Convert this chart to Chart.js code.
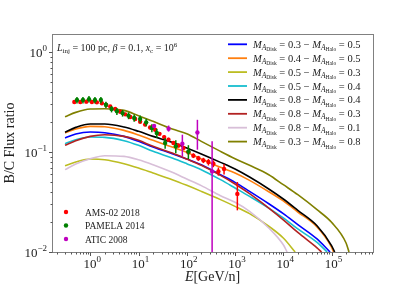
<!DOCTYPE html>
<html>
<head>
<meta charset="utf-8">
<script src="https://cdn.jsdelivr.net/npm/chart.js@4.4.0/dist/chart.umd.min.js"></script>
<style>
  html, body { margin: 0; padding: 0; background: #fff; }
  canvas { display: block; }
</style>
</head>
<body>
<canvas id="bcChart" width="415" height="288"></canvas>
<script>
// energy grid of the model curves [GeV/n]
const E_grid = [0.3, 0.5, 1, 2, 5, 10, 20, 50, 100, 200, 500, 1e3, 2e3, 5e3, 1e4, 2e4, 5e4, 1e5, 2e5];

// B/C ratio of each model on E_grid, then the energy where it drops to 0.01
const bcBlue   = [0.138, 0.1514, 0.1585, 0.1561, 0.1434, 0.1279, 0.1122, 0.0962, 0.0851, 0.0747, 0.0593, 0.0497, 0.0404, 0.0304, 0.0242, 0.0188, 0.0135];
const bcOrange = [0.1549, 0.1698, 0.1806, 0.1792, 0.1647, 0.1479, 0.1308, 0.1122, 0.0992, 0.0851, 0.0703, 0.0617, 0.0521, 0.0401, 0.0324, 0.0251, 0.0178, 0.0112];
const bcYellow = [0.073, 0.0794, 0.0851, 0.0838, 0.0764, 0.0692, 0.0617, 0.0529, 0.0464, 0.0404, 0.0334, 0.0286, 0.0242, 0.0181, 0.0138];
const bcCyan   = [0.1211, 0.1328, 0.1413, 0.1402, 0.1298, 0.1166, 0.1015, 0.0871, 0.0764, 0.0666, 0.0529, 0.0437, 0.036, 0.0275, 0.0219, 0.017, 0.0125];
const bcBlack  = [0.158, 0.1764, 0.1905, 0.1905, 0.1778, 0.161, 0.1434, 0.125, 0.1096, 0.0955, 0.0788, 0.0676, 0.0562, 0.0427, 0.0339, 0.0261, 0.0183, 0.0116];
const bcBrown  = [0.1166, 0.1298, 0.1434, 0.149, 0.1434, 0.1308, 0.1139, 0.0977, 0.0851, 0.0736, 0.0584, 0.0479, 0.0383, 0.0275, 0.021, 0.0157, 0.011];
const bcPink   = [0.0666, 0.0759, 0.0858, 0.0919, 0.0905, 0.0838, 0.0747, 0.0626, 0.0537, 0.0461, 0.0366, 0.0314, 0.0255, 0.0174, 0.0118];
const bcOlive  = [0.2255, 0.2492, 0.2692, 0.2713, 0.261, 0.2309, 0.2026, 0.1698, 0.1526, 0.1279, 0.1015, 0.0858, 0.0736, 0.0593, 0.0471, 0.0374, 0.0265, 0.0198, 0.0123];
const cutoffE  = [9.3e4, 1.1e5, 1.76e4, 8.1e4, 1.16e5, 6.2e4, 1.2e4, 2.3e5];

const maDisk = ['0.3', '0.4', '0.5', '0.5', '0.8', '0.8', '0.8', '0.3'];
const maHalo = ['0.5', '0.5', '0.3', '0.4', '0.4', '0.3', '0.1', '0.8'];

// AMS-02 2018
const amsE = [0.467, 0.621, 0.827, 1.08, 1.37, 1.74, 2.14, 2.59, 3.29, 4.18, 5.3, 6.73, 8.53, 10.8, 13.7, 17.4, 22.1, 27.2, 34, 41.8, 53, 67.3, 85.3, 108, 137, 174, 221, 281, 356, 452, 592, 1117];
const amsBC = [0.316, 0.316, 0.319, 0.316, 0.314, 0.307, 0.295, 0.286, 0.269, 0.253, 0.238, 0.224, 0.214, 0.201, 0.188, 0.176, 0.167, 0.152, 0.141, 0.133, 0.123, 0.116, 0.11, 0.0992, 0.092, 0.0865, 0.0825, 0.0794, 0.0765, 0.064, 0.0676, 0.0381];
const amsErr = [0.012, 0.012, 0.012, 0.012, 0.011, 0.011, 0.01, 0.01, 0.009, 0.009, 0.008, 0.008, 0.008, 0.007, 0.007, 0.007, 0.007, 0.006, 0.006, 0.006, 0.005, 0.005, 0.005, 0.005, 0.005, 0.005, 0.005, 0.006, 0.006, 0.006, 0.008, 0.012];

// PAMELA 2014
const pamE = [0.53, 0.705, 0.94, 1.25, 1.66, 2.11, 2.76, 3.56, 4.67, 6.21, 8.13, 10.8, 14.4, 18.9, 23.9, 35.6, 59.2, 108];
const pamBC = [0.331, 0.331, 0.338, 0.331, 0.331, 0.297, 0.269, 0.255, 0.245, 0.231, 0.219, 0.214, 0.198, 0.174, 0.155, 0.123, 0.114, 0.101];
const pamErr = [0.025, 0.025, 0.025, 0.025, 0.025, 0.022, 0.02, 0.02, 0.019, 0.018, 0.018, 0.018, 0.017, 0.016, 0.016, 0.015, 0.017, 0.016];

// ATIC 2008
const aticE = [21, 42, 81, 166, 335];
const aticBC = [0.182, 0.171, 0.121, 0.157, 0.064];
const aticHi = [0.19, 0.184, 0.149, 0.21, 0.128];
const aticLo = [0.174, 0.16, 0.0905, 0.1055, 0.001];

const FONT = '"Liberation Serif", "DejaVu Serif", serif';
const modelColors = ['#0000ff', '#ff7f0e', '#bcbd22', '#17becf', '#000000', '#b22222', '#d8bfd8', '#808000'];
const modelVals = [bcBlue, bcOrange, bcYellow, bcCyan, bcBlack, bcBrown, bcPink, bcOlive];

const datasets = [];

modelVals.forEach((vals, i) => {
  const pts = vals.map((v, k) => ({ x: E_grid[k], y: v }));
  pts.push({ x: cutoffE[i], y: 0.01 });
  datasets.push({
    data: pts,
    showLine: true,
    borderColor: modelColors[i],
    borderWidth: 1.6,
    pointRadius: 0,
    cubicInterpolationMode: 'monotone',
    order: 100 - i
  });
});

function dataSet(E, vals, lo, hi, color, ord) {
  return {
    data: E.map((e, k) => ({ x: e, y: vals[k] })),
    errLo: lo,
    errHi: hi,
    showLine: false,
    pointRadius: 2.2,
    pointBorderWidth: 0,
    backgroundColor: color,
    borderColor: color,
    order: ord
  };
}

datasets.push(dataSet(amsE, amsBC, amsBC.map((v, k) => v - amsErr[k]), amsBC.map((v, k) => v + amsErr[k]), '#ff0000', 10));
datasets.push(dataSet(pamE, pamBC, pamBC.map((v, k) => v - pamErr[k]), pamBC.map((v, k) => v + pamErr[k]), '#008000', 9));
datasets.push(dataSet(aticE, aticBC, aticLo, aticHi, '#bf00bf', 8));

// writes a run of text pieces [text, size, italic, dy]
function drawRich(ctx, x, y, parts, align) {
  let w = 0;
  parts.forEach(p => {
    ctx.font = (p[2] ? 'italic ' : '') + p[1] + 'px ' + FONT;
    w += ctx.measureText(p[0]).width;
  });
  let cx = x;
  if (align === 'right') cx = x - w;
  if (align === 'center') cx = x - w / 2;
  parts.forEach(p => {
    ctx.font = (p[2] ? 'italic ' : '') + p[1] + 'px ' + FONT;
    ctx.fillText(p[0], cx, y + (p[3] || 0));
    cx += ctx.measureText(p[0]).width;
  });
  return w;
}

const errorBars = {
  id: 'errorBars',
  afterDatasetDraw(chart, args) {
    const ds = chart.data.datasets[args.index];
    if (!ds.errLo) return;
    const ctx = chart.ctx;
    const area = chart.chartArea;
    const xs = chart.scales.x, ys = chart.scales.y;
    ctx.save();
    ctx.beginPath();
    ctx.rect(area.left, area.top, area.right - area.left, area.bottom - area.top);
    ctx.clip();
    ctx.strokeStyle = ds.borderColor;
    ctx.lineWidth = 1.5;
    ds.data.forEach((p, k) => {
      const px = xs.getPixelForValue(p.x);
      ctx.beginPath();
      ctx.moveTo(px, ys.getPixelForValue(Math.max(ds.errLo[k], 1e-4)));
      ctx.lineTo(px, ys.getPixelForValue(ds.errHi[k]));
      ctx.stroke();
    });
    ctx.restore();
  }
};

const decorations = {
  id: 'decorations',
  afterDraw(chart) {
    const ctx = chart.ctx;
    const a = chart.chartArea;
    const xs = chart.scales.x, ys = chart.scales.y;
    ctx.save();

    // frame
    ctx.strokeStyle = '#808080';
    ctx.lineWidth = 1;
    ctx.strokeRect(Math.round(a.left) + 0.5, Math.round(a.top) + 0.5, Math.round(a.right - a.left), Math.round(a.bottom - a.top));

    // ticks
    ctx.strokeStyle = '#555';
    const bottom = Math.round(a.bottom) + 0.5, left = Math.round(a.left) + 0.5;
    for (let n = -1; n <= 6; n++) {
      for (let m = 1; m <= 9; m++) {
        const v = m * Math.pow(10, n);
        if (v < xs.min || v > xs.max) continue;
        const px = Math.round(xs.getPixelForValue(v)) + 0.5;
        ctx.beginPath();
        ctx.moveTo(px, bottom);
        ctx.lineTo(px, bottom + (m === 1 ? 3.5 : 2));
        ctx.stroke();
      }
    }
    for (let n = -2; n <= 0; n++) {
      for (let m = 1; m <= 9; m++) {
        const v = m * Math.pow(10, n);
        if (v < ys.min || v > ys.max) continue;
        const py = Math.round(ys.getPixelForValue(v)) + 0.5;
        ctx.beginPath();
        ctx.moveTo(left, py);
        ctx.lineTo(left - (m === 1 ? 3.5 : 2), py);
        ctx.stroke();
      }
    }

    ctx.fillStyle = '#222';
    ctx.textBaseline = 'alphabetic';
    // tick labels
    [0, -1, -2].forEach(n => {
      const py = ys.getPixelForValue(Math.pow(10, n));
      drawRich(ctx, a.left - 5, py + 4.5, [['10', 13], [n < 0 ? '\u2212' + (-n) : String(n), 9, false, -6]], 'right');
    });
    [0, 1, 2, 3, 4, 5].forEach(n => {
      const px = xs.getPixelForValue(Math.pow(10, n));
      drawRich(ctx, px + 2, 268, [['10', 13], [String(n), 9, false, -6]], 'center');
    });

    // axis titles
    drawRich(ctx, (a.left + a.right) / 2, 281, [['E', 14, true], ['[GeV/n]', 14]], 'center');
    ctx.save();
    ctx.translate(14, (a.top + a.bottom) / 2);
    ctx.rotate(-Math.PI / 2);
    drawRich(ctx, 0, 0, [['B/C Flux ratio', 14]], 'center');
    ctx.restore();

    // parameters
    drawRich(ctx, 57, 50.5, [
      ['L', 10, true], ['inj', 7, false, 2.5], [' = 100 pc, ', 10], ['\u03b2', 10, true],
      [' = 0.1, ', 10], ['x', 10, true], ['c', 7, false, 2.5], [' = 10', 10], ['6', 7, false, -4]
    ]);

    // model legend
    maDisk.forEach((d, i) => {
      const ry = 44.3 + i * 13.9;
      ctx.strokeStyle = modelColors[i];
      ctx.lineWidth = 1.8;
      ctx.beginPath();
      ctx.moveTo(228, ry);
      ctx.lineTo(247, ry);
      ctx.stroke();
      drawRich(ctx, 253, ry + 3.5, [
        ['M', 10.5, true], ['A', 7.5, true, 2], ['Disk', 5.5, false, 3.5], [' = ' + d + ' \u2212 ', 10.5],
        ['M', 10.5, true], ['A', 7.5, true, 2], ['Halo', 5.5, false, 3.5], [' = ' + maHalo[i], 10.5]
      ]);
    });

    // data legend
    [['AMS-02 2018', '#ff0000'], ['PAMELA 2014', '#008000'], ['ATIC 2008', '#bf00bf']].forEach((it, i) => {
      const ry = 212 + i * 13.5;
      ctx.fillStyle = it[1];
      ctx.beginPath();
      ctx.arc(66, ry, 2.2, 0, Math.PI * 2);
      ctx.fill();
      ctx.fillStyle = '#222';
      drawRich(ctx, 85, ry + 3.5, [[it[0], 9.5]]);
    });

    ctx.restore();
  }
};

new Chart(document.getElementById('bcChart'), {
  type: 'scatter',
  data: { datasets: datasets },
  options: {
    responsive: false,
    animation: false,
    layout: { padding: { left: 52, right: 42, top: 34, bottom: 36 } },
    plugins: { legend: { display: false }, tooltip: { enabled: false } },
    scales: {
      x: { type: 'logarithmic', min: 0.161, max: 7.23e5, display: false },
      y: { type: 'logarithmic', min: 0.01, max: 1.515, display: false }
    }
  },
  plugins: [errorBars, decorations]
});
</script>
</body>
</html>
